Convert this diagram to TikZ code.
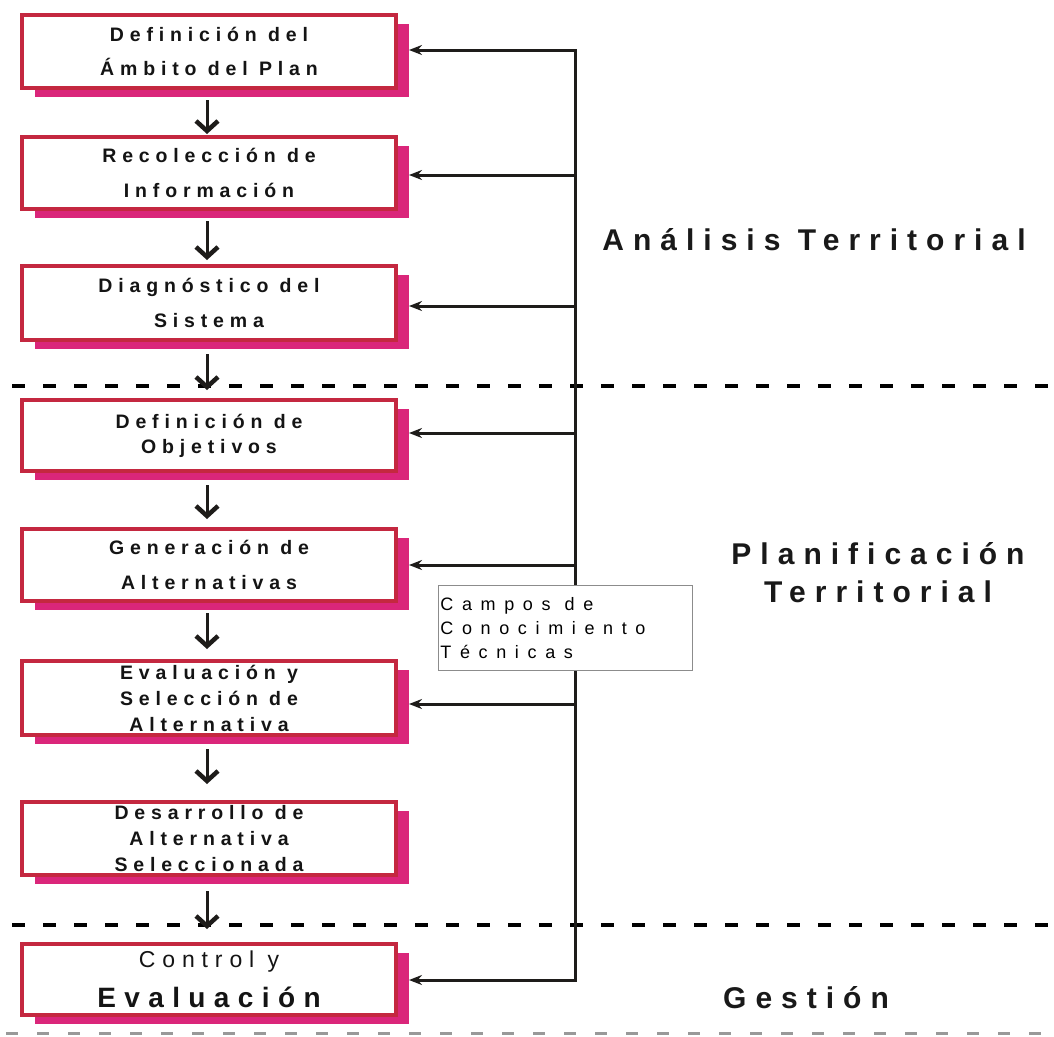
\documentclass[tikz,border=0pt]{standalone}
\usepackage{fontspec}
\setmainfont{Liberation Sans}
\newfontfamily\trackfont[LetterSpace=30]{Liberation Sans}
\newfontfamily\widefont[LetterSpace=48]{Liberation Sans}
\usetikzlibrary{arrows.meta,shadows}

\definecolor{framered}{RGB}{196,40,64}
\definecolor{shadepink}{RGB}{218,38,122}
\definecolor{inkdark}{RGB}{30,28,26}

\tikzset{
  stepbox/.style={draw=framered, line width=4pt, fill=white,
    minimum width=374pt, inner sep=0pt, outer sep=0pt,
    align=center, text=black!92,
    font=\trackfont\bfseries\fontsize{19.5}{#1}\selectfont,
    drop shadow={shadow xshift=13pt, shadow yshift=-9pt,
      fill=shadepink, opacity=1}},
  stepbox/.default=34,
  flow/.style={draw=inkdark, line width=3pt,
    -{Straight Barb[length=10pt,width=22pt,line width=4.5pt]}},
  feed/.style={draw=inkdark, line width=3pt,
    -{Stealth[length=13pt,width=10pt]}},
  spineline/.style={draw=inkdark, line width=3pt, line cap=rect},
  sepline/.style={draw=black, line width=3.5pt,
    dash pattern=on 13pt off 18pt, dash phase=-12pt},
  baseline rule/.style={draw=black!40, line width=3pt,
    dash pattern=on 12pt off 19pt, dash phase=-6pt},
  phase/.style={font=\trackfont\bfseries\fontsize{30}{38}\selectfont,
    align=center, text=black!90, inner sep=0pt},
  fieldbox/.style={draw=black!45, line width=0.8pt, fill=white,
    minimum width=254pt, minimum height=85pt, inner sep=2pt,
    align=left, anchor=north west, text width=250pt,
    font=\widefont\fontsize{18}{24}\selectfont}
}

\begin{document}
\begin{tikzpicture}[x=1pt,y=-1pt]
\useasboundingbox[fill=white] (0,0) rectangle (1054,1036);

% section separators
\draw[sepline] (0,386) -- (1054,386);
\draw[sepline] (0,925) -- (1054,925);
\draw[baseline rule] (0,1033) -- (1054,1033);

% process steps
\node[stepbox=34, minimum height=73pt] (b1) at (209,51.5)
  {\raisebox{-3pt}{Definición del}\\\raisebox{-3pt}{Ámbito del Plan}};
\node[stepbox=35, minimum height=72pt] (b2) at (209,173)
  {Recolección de\\Información};
\node[stepbox=35, minimum height=74pt] (b3) at (209,303)
  {Diagnóstico del\\Sistema};
\node[stepbox=25, minimum height=71pt] (b4) at (209,435.5)
  {Definición de\\Objetivos};
\node[stepbox=35, minimum height=72pt] (b5) at (209,565)
  {Generación de\\Alternativas};
\node[stepbox=26, minimum height=74pt] (b6) at (209,698)
  {Evaluación y\\Selección de\\Alternativa};
\node[stepbox=26, minimum height=73pt] (b7) at (209,838.5)
  {Desarrollo de\\Alternativa\\Seleccionada};
\node[stepbox=40, minimum height=71pt] (b8) at (209,979.5)
  {{\mdseries\fontsize{23}{40}\selectfont Control y}\\
   {\fontsize{28}{40}\selectfont Evaluación}};

% sequence arrows
\draw[flow] ([xshift=-2pt,yshift=-12pt]b1.south) -- ([xshift=-2pt,yshift=3pt]b2.north);
\draw[flow] ([xshift=-2pt,yshift=-12pt]b2.south) -- ([xshift=-2pt,yshift=6pt]b3.north);
\draw[flow] ([xshift=-2pt,yshift=-14pt]b3.south) -- ([xshift=-2pt,yshift=10pt]b4.north);
\draw[flow] ([xshift=-2pt,yshift=-14pt]b4.south) -- ([xshift=-2pt,yshift=10pt]b5.north);
\draw[flow] ([xshift=-2pt,yshift=-12pt]b5.south) -- ([xshift=-2pt,yshift=12pt]b6.north);
\draw[flow] ([xshift=-2pt,yshift=-14pt]b6.south) -- ([xshift=-2pt,yshift=18pt]b7.north);
\draw[flow] ([xshift=-2pt,yshift=-16pt]b7.south) -- ([xshift=-2pt,yshift=15pt]b8.north);

% knowledge spine feeding the steps
\coordinate (t1) at (575,50);
\coordinate (t2) at (575,175);
\coordinate (t3) at (575,306);
\coordinate (t4) at (575,433);
\coordinate (t5) at (575,565);
\coordinate (t6) at (575,704);
\coordinate (t8) at (575,980);
\draw[spineline] (t1) -- (t8);
\foreach \t/\b in {t1/b1,t2/b2,t3/b3,t4/b4,t5/b5,t6/b6,t8/b8}
  \draw[feed] (\t) -- ([xshift=13pt]\b.east |- \t);

\node[fieldbox] (fields) at (438,585)
  {Campos\hspace{8pt} de\\Conocimiento\\Técnicas};

% phase labels
\node[phase] (analisis) at (814,240) {Análisis Territorial};
\node[phase] (planif) at (878,573) {Planificación\\Territorial};
\node[phase] (gestion) at (806,998) {Gestión};
\end{tikzpicture}
\end{document}
